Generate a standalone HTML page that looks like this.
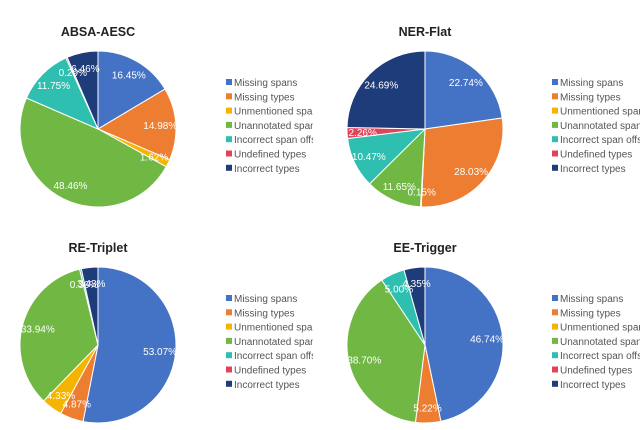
<!DOCTYPE html>
<html><head><meta charset="utf-8"><style>
body{margin:0;background:#fff;width:640px;height:425px;overflow:hidden;font-family:"Liberation Sans",Arial,sans-serif}
</style></head><body>
<svg id="s" width="640" height="425"></svg>
<script>
const categories=["Missing spans","Missing types","Unmentioned spans","Unannotated spans","Incorrect span offsets","Undefined types","Incorrect types"];
const colors=["#4472c4","#ed7d31","#f4b400","#70b843","#2fbfb0","#e0445a","#1f3c7a"];
const titles=["ABSA-AESC","NER-Flat","RE-Triplet","EE-Trigger"];
const absaValues=[16.45,14.98,1.62,48.46,11.75,0.29,6.46];
const nerValues=[22.74,28.03,0.15,11.65,10.47,2.26,24.69];
const reValues=[53.07,4.87,4.33,33.94,0.36,0,3.43];
const eeValues=[46.74,5.22,0,38.70,5.00,0,4.35];
const allValues=[absaValues,nerValues,reValues,eeValues];
const NS="http://www.w3.org/2000/svg";
const svg=document.getElementById('s');
const panels=[{cx:98,cy:129,ty:36,lx:226,ly:83,cw:89},{cx:425,cy:129,ty:36,lx:552,ly:83,cw:90},{cx:98,cy:345,ty:252,lx:226,ly:299,cw:89},{cx:425,cy:345,ty:252,lx:552,ly:299,cw:90}];
const R=78;
function mk(t,a){const e=document.createElementNS(NS,t);for(const k in a)e.setAttribute(k,a[k]);return e;}
panels.forEach((p,pi)=>{
  const g=mk('g',{});
  
  
  svg.appendChild(g);
  const t=mk('text',{x:p.cx,y:p.ty,'text-anchor':'middle','font-size':'12.5','font-weight':'bold',fill:'#222'});
  t.textContent=titles[pi];
  
  
  g.appendChild(t);
  const vals=allValues[pi];
  const tot=vals.reduce((a,b)=>a+b,0);
  let a0=0;
  const labels=[];
  vals.forEach((v,i)=>{
    if(v<=0)return;
    const a1=a0+v/tot*2*Math.PI;
    const x0=p.cx+R*Math.sin(a0),y0=p.cy-R*Math.cos(a0);
    const x1=p.cx+R*Math.sin(a1),y1=p.cy-R*Math.cos(a1);
    const large=(a1-a0)>Math.PI?1:0;
    const path=mk('path',{d:`M${p.cx},${p.cy}L${x0},${y0}A${R},${R} 0 ${large} 1 ${x1},${y1}Z`,fill:colors[i],stroke:'#fff','stroke-width':'1'});
    
    
    g.appendChild(path);
    const am=(a0+a1)/2, lr=R*0.8;
    labels.push([p.cx+lr*Math.sin(am),p.cy-lr*Math.cos(am)+4,v.toFixed(2)+'%']);
    a0=a1;
  });
  labels.forEach(l=>{
    const tx=mk('text',{x:l[0],y:l[1],'text-anchor':'middle','font-size':'10','fill':'#fff'});
    tx.textContent=l[2];
    
    
    g.appendChild(tx);
  });
  const lg=mk('g',{});
  
  
  g.appendChild(lg);
  const clipId='c'+pi;
  const cp=mk('clipPath',{id:clipId});cp.appendChild(mk('rect',{x:p.lx-2,y:p.ly-10,width:p.cw,height:120}));
  lg.appendChild(cp);
  categories.forEach((c,i)=>{
    const y=p.ly+i*14.3;
    const e=mk('g',{'clip-path':`url(#${clipId})`});
    
    
    e.appendChild(mk('rect',{x:p.lx,y:y-4,width:6,height:6,fill:colors[i]}));
    const tt=mk('text',{x:p.lx+8,y:y+3,'font-size':'10',fill:'#555'});
    tt.textContent=c;e.appendChild(tt);
    lg.appendChild(e);
  });
});
</script>
</body></html>
